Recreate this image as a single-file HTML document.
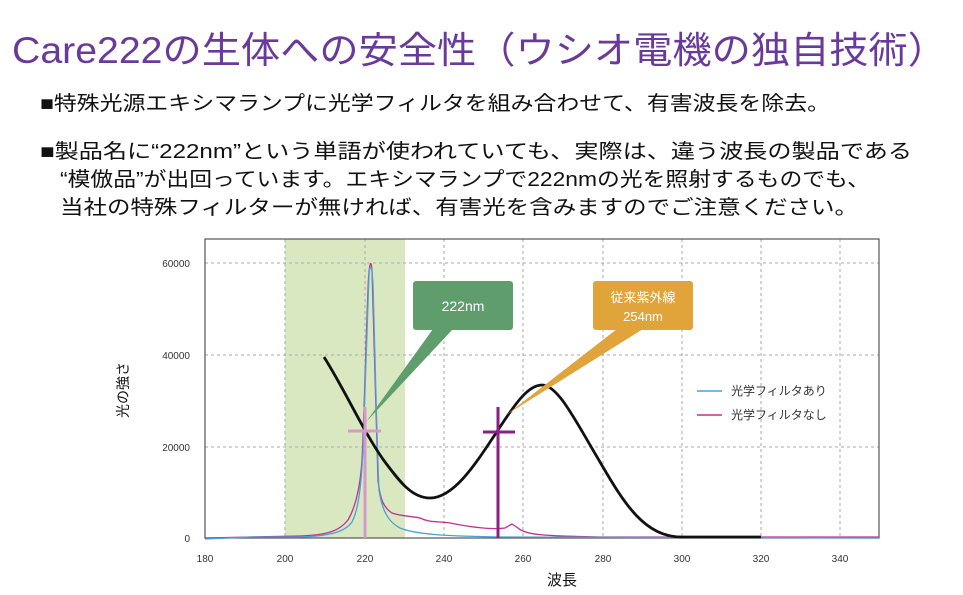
<!DOCTYPE html>
<html><head><meta charset="utf-8"><style>
body{margin:0;background:#fff;width:963px;height:595px;overflow:hidden}
svg{display:block}
.j{font-family:"Liberation Sans","Noto Sans CJK JP",sans-serif}
</style></head><body>
<svg width="963" height="595" viewBox="0 0 963 595" class="j">
<text x="12" y="63" font-size="37" fill="#6a3a9a" textLength="935" lengthAdjust="spacingAndGlyphs">Care222の生体への安全性（ウシオ電機の独自技術）</text>
<g font-size="20" fill="#111">
<text x="40" y="110" textLength="790" lengthAdjust="spacingAndGlyphs">■特殊光源エキシマランプに光学フィルタを組み合わせて、有害波長を除去。</text>
<text x="40" y="158" textLength="872" lengthAdjust="spacingAndGlyphs">■製品名に“222nm”という単語が使われていても、実際は、違う波長の製品である</text>
<text x="60" y="186" textLength="810" lengthAdjust="spacingAndGlyphs">“模倣品”が出回っています。エキシマランプで222nmの光を照射するものでも、</text>
<text x="60" y="214" textLength="798" lengthAdjust="spacingAndGlyphs">当社の特殊フィルターが無ければ、有害光を含みますのでご注意ください。</text>
</g>
<rect x="285" y="239" width="120" height="299" fill="#d9e8c0"/>
<g stroke="#aaa" stroke-dasharray="3,3" stroke-width="1">
<line x1="285" y1="239" x2="285" y2="538"/><line x1="365" y1="239" x2="365" y2="538"/>
<line x1="444" y1="239" x2="444" y2="538"/><line x1="523" y1="239" x2="523" y2="538"/>
<line x1="603" y1="239" x2="603" y2="538"/><line x1="682" y1="239" x2="682" y2="538"/>
<line x1="761" y1="239" x2="761" y2="538"/><line x1="840" y1="239" x2="840" y2="538"/>
<line x1="205" y1="263" x2="879" y2="263"/><line x1="205" y1="355" x2="879" y2="355"/>
<line x1="205" y1="447" x2="879" y2="447"/>
</g>
<rect x="205" y="239" width="674" height="299" fill="none" stroke="#555" stroke-width="1.2"/>
<g font-size="10" fill="#333" text-anchor="end">
<text x="190" y="267">60000</text><text x="190" y="359">40000</text><text x="190" y="451">20000</text><text x="190" y="542">0</text>
</g>
<g font-size="10" fill="#333" text-anchor="middle">
<text x="205" y="562">180</text><text x="285" y="562">200</text><text x="365" y="562">220</text><text x="444" y="562">240</text><text x="523" y="562">260</text><text x="603" y="562">280</text><text x="682" y="562">300</text><text x="761" y="562">320</text><text x="840" y="562">340</text>
</g>
<text x="562" y="585" font-size="15" fill="#111" text-anchor="middle">波長</text>
<text transform="translate(128,390) rotate(-90)" font-size="14" fill="#111" text-anchor="middle">光の強さ</text>
<path d="M205,538 L250,537 L300,536 C330,535 340,530 348,520 C355,508 360,490 362,460 C364,420 366,340 368,290 C369,262 371,258 372,270 C374,320 376,430 378,480 C380,500 384,508 392,513 C400,516 410,516 420,518 C430,523 438,521 450,523 C470,527 490,530 505,528 L512,524 L518,528 C525,535 545,536 600,537 L879,537" fill="none" stroke="#c03090" stroke-width="1.3"/>
<path d="M205,539 L250,537 L300,537 C330,536 345,532 352,522 C358,510 361,490 363,450 C365,400 367,320 369,275 C370,262 372,264 373,285 C375,350 377,450 379,490 C382,510 388,522 400,528 C415,534 440,536 500,537 L879,538" fill="none" stroke="#4aa0d8" stroke-width="1.3"/>
<path d="M324,357 C345,390 365,435 385,462 C400,482 412,498 430,498 C455,498 478,460 498,430 C515,404 528,385 542,385 C558,385 575,420 600,462 C625,505 645,537 682,537 L761,537" fill="none" stroke="#111" stroke-width="2.8"/>
<g stroke="#d49ac8" stroke-width="3"><line x1="365" y1="407" x2="365" y2="538"/><line x1="348" y1="431" x2="381" y2="431"/></g>
<g stroke="#8b1f85" stroke-width="3"><line x1="498" y1="407" x2="498" y2="538"/><line x1="483" y1="432" x2="515" y2="432"/></g>
<polygon points="433,329 453,329 366,422" fill="#5f9e6c"/>
<rect x="413" y="281" width="100" height="49" rx="3" fill="#5f9e6c"/>
<text x="463" y="311" font-size="14" fill="#fff" text-anchor="middle">222nm</text>
<polygon points="617,329 643,329 506,415" fill="#e0a43a"/>
<rect x="593" y="281" width="100" height="49" rx="3" fill="#e0a43a"/>
<text x="643" y="302" font-size="13" fill="#fff" text-anchor="middle">従来紫外線</text>
<text x="643" y="321" font-size="13" fill="#fff" text-anchor="middle">254nm</text>
<line x1="697" y1="391" x2="722" y2="391" stroke="#4aa0d8" stroke-width="1.5"/>
<text x="731" y="395" font-size="12" fill="#333">光学フィルタあり</text>
<line x1="697" y1="415" x2="722" y2="415" stroke="#c03090" stroke-width="1.5"/>
<text x="731" y="419" font-size="12" fill="#333">光学フィルタなし</text>
</svg>
</body></html>
